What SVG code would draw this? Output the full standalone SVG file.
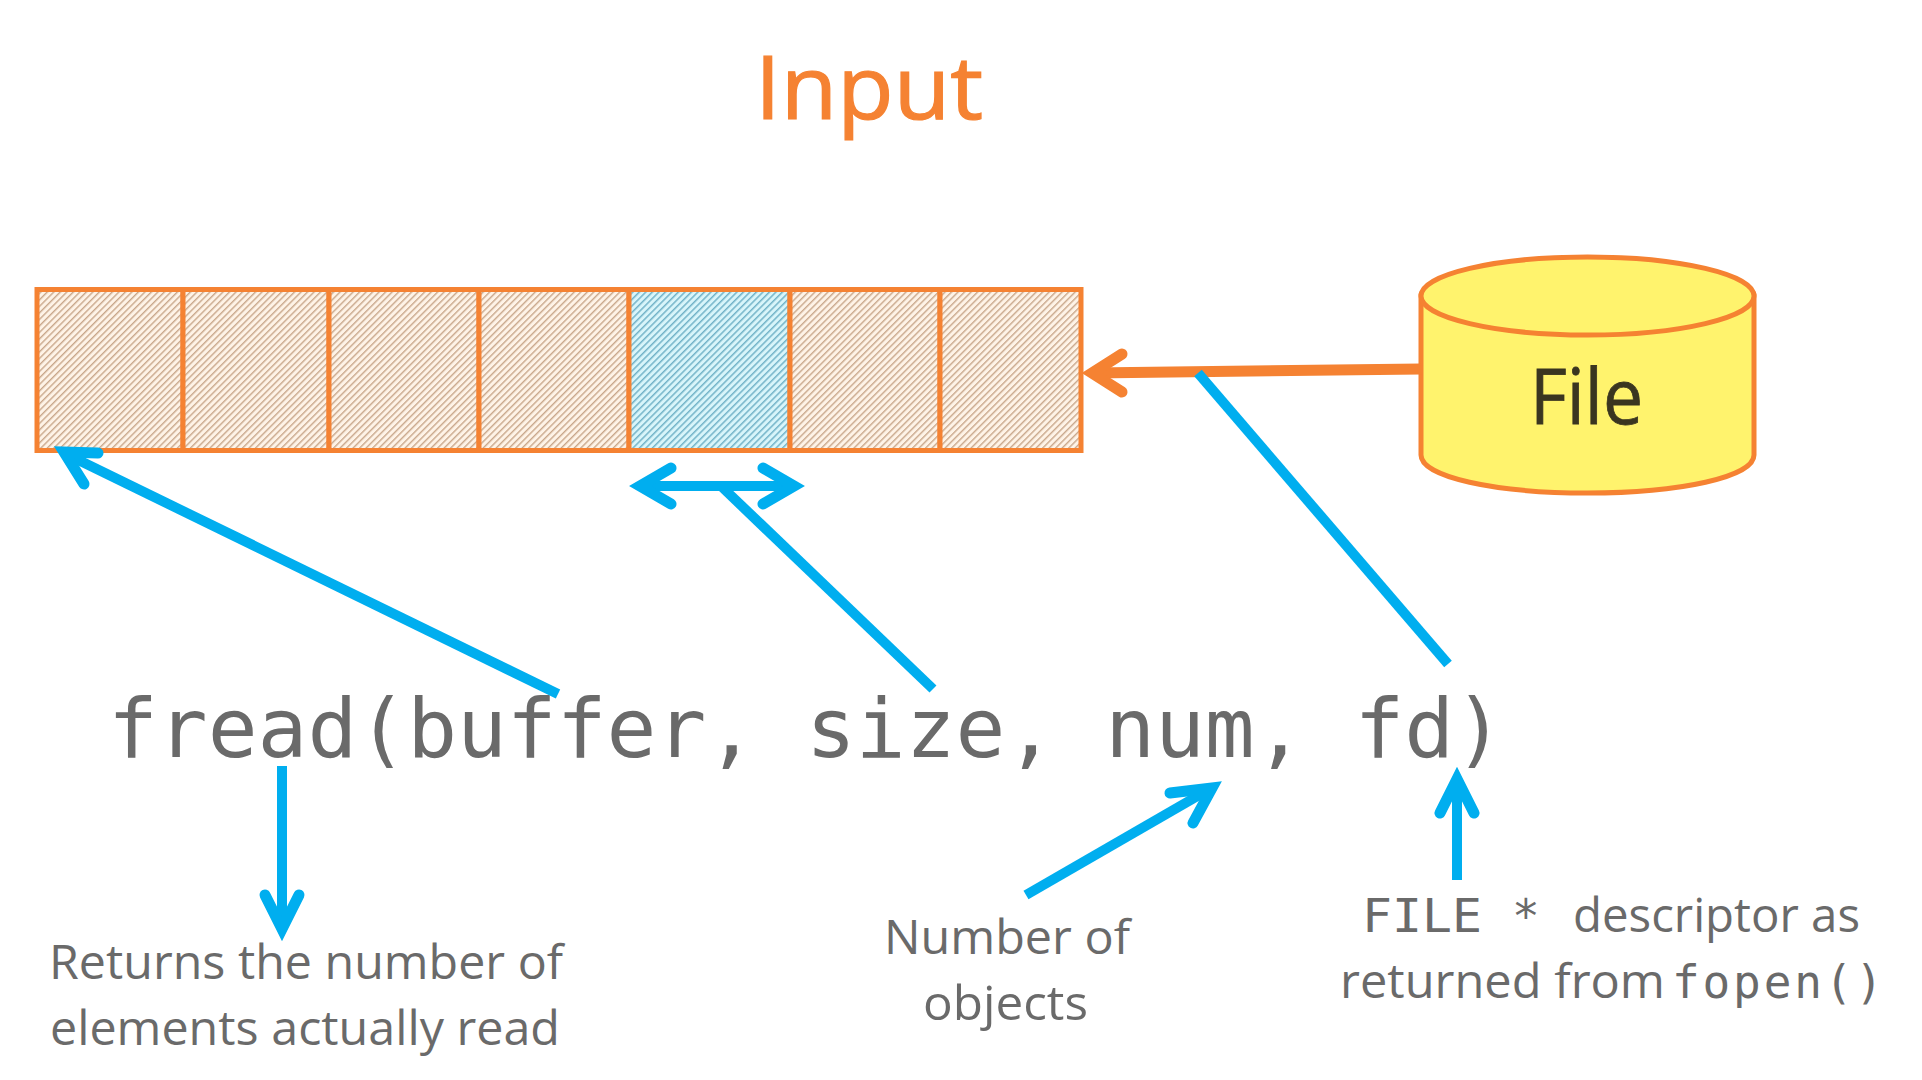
<svg xmlns="http://www.w3.org/2000/svg" width="1922" height="1080" viewBox="0 0 1922 1080">
<style>
.sans{font-family:"Open Sans","Noto Sans",sans-serif;fill:#6a6a6a;font-size:47px}
.mono{font-family:"DejaVu Sans Mono","Liberation Mono",monospace;fill:#6a6a6a}
.blue{stroke:#00aeef;stroke-width:10;fill:none}
.bluehead{stroke:#00aeef;stroke-width:11;fill:none;stroke-linecap:round;stroke-linejoin:miter}
.cell{stroke:#f58232;stroke-width:5}
</style>
<defs>
<pattern id="hatchO" width="4.6" height="4.6" patternUnits="userSpaceOnUse" patternTransform="rotate(-45)">
<rect width="4.600" height="4.600" fill="#fef3e7"/><rect width="4.600" height="1.400" fill="#c9a78b"/>
</pattern>
<pattern id="hatchB" width="4.6" height="4.6" patternUnits="userSpaceOnUse" patternTransform="rotate(-45)">
<rect width="4.600" height="4.600" fill="#d8f5fa"/><rect width="4.600" height="1.500" fill="#72b3c8"/>
</pattern>
</defs>
<rect width="1922" height="1080" fill="#fff"/>
<g id="title"><text x="755" y="119" font-family="'Open Sans','Noto Sans',sans-serif" font-size="88" fill="#f58232" stroke="#f58232" stroke-width="1.200" textLength="228" lengthAdjust="spacingAndGlyphs">Input</text></g>
<g id="buffer">
<rect class="cell" x="37" y="289.500" width="146" height="161" fill="url(#hatchO)"/>
<rect class="cell" x="183" y="289.500" width="146" height="161" fill="url(#hatchO)"/>
<rect class="cell" x="329" y="289.500" width="150" height="161" fill="url(#hatchO)"/>
<rect class="cell" x="479" y="289.500" width="150" height="161" fill="url(#hatchO)"/>
<rect class="cell" x="629" y="289.500" width="161" height="161" fill="url(#hatchB)"/>
<rect class="cell" x="790" y="289.500" width="150" height="161" fill="url(#hatchO)"/>
<rect class="cell" x="940" y="289.500" width="141" height="161" fill="url(#hatchO)"/>
</g>
<g id="file">
<path d="M1421 296V455C1421 477 1495 493 1587.500 493S1754 477 1754 455V296Z" fill="#fff36d" stroke="#f58232" stroke-width="5"/>
<ellipse cx="1587.500" cy="296" rx="166.500" ry="39" fill="#fff36d" stroke="#f58232" stroke-width="5"/>
<text x="1530" y="424" font-family="'Open Sans','Noto Sans',sans-serif" font-size="76" fill="#3a3520" stroke="#3a3520" stroke-width="0.800" textLength="113" lengthAdjust="spacingAndGlyphs">File</text>
</g>
<g id="code"><text class="mono" x="108" y="757" font-size="82" textLength="1396" lengthAdjust="spacingAndGlyphs">fread(buffer, size, num, fd)</text></g>
<g id="labels">
<text class="sans" x="49" y="979" textLength="514" lengthAdjust="spacingAndGlyphs">Returns the number of</text>
<text class="sans" x="50" y="1045" textLength="510" lengthAdjust="spacingAndGlyphs">elements actually read</text>
<text class="sans" x="884" y="954" textLength="246" lengthAdjust="spacingAndGlyphs">Number of</text>
<text class="sans" x="923" y="1020" textLength="165" lengthAdjust="spacingAndGlyphs">objects</text>
<text class="mono" x="1362" y="932" font-size="46" textLength="120" lengthAdjust="spacingAndGlyphs">FILE</text>
<text class="mono" x="1512" y="932" font-size="46">*</text>
<text class="sans" x="1573" y="932" textLength="287" lengthAdjust="spacingAndGlyphs">descriptor as</text>
<text class="sans" x="1340" y="998" textLength="325" lengthAdjust="spacingAndGlyphs">returned from</text>
<text class="mono" x="1672" y="998" font-size="46" textLength="211" lengthAdjust="spacing">fopen()</text>
</g>
<g id="connectors">
<path d="M1421 369L1092 373" stroke="#f58232" stroke-width="11" fill="none"/>
<path d="M1122 354L1092 373L1122 392" stroke="#f58232" stroke-width="11" fill="none" stroke-linecap="round"/>
<path class="blue" d="M558 694L66 454"/>
<path class="bluehead" d="M98 453L64 452L84 484"/>
<path class="blue" d="M933 689L722 487"/>
<path class="blue" d="M640 486H795"/>
<path class="bluehead" d="M671 468L640 486L671 504"/>
<path class="bluehead" d="M763 468L794 486L763 504"/>
<path class="blue" d="M1448 664L1198 373"/>
<path class="blue" d="M282 766V925"/>
<path class="bluehead" d="M265 895L282 929L299 895"/>
<path class="blue" d="M1026 895L1208 790"/>
<path class="bluehead" d="M1170 793L1212 788L1193 823"/>
<path class="blue" d="M1457 880V778"/>
<path class="bluehead" d="M1440 813L1457 779L1474 813"/>
</g>
</svg>
